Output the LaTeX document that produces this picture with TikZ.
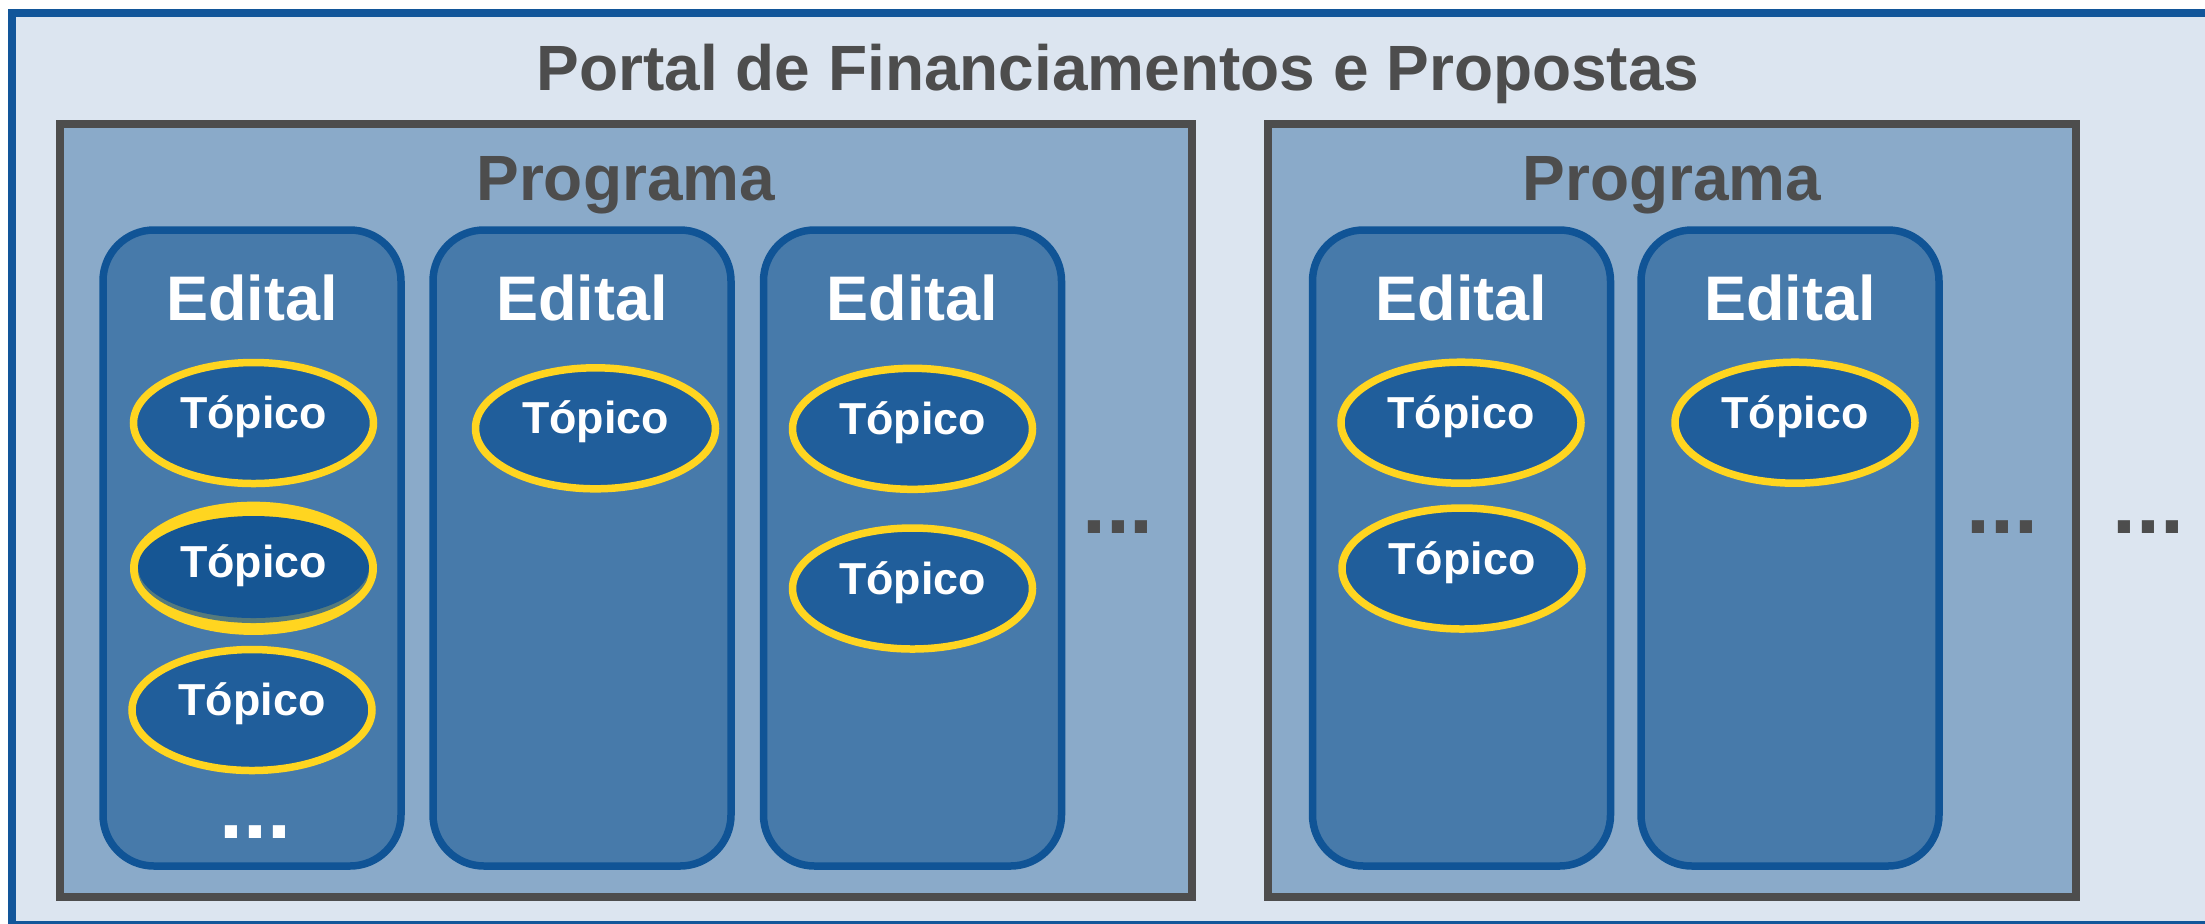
\documentclass[tikz,border=0pt]{standalone}
\usepackage{fontspec}
\setmainfont{Liberation Sans}
\usetikzlibrary{shapes.geometric}
\definecolor{bgc}{HTML}{DCE5F0}
\definecolor{frameblue}{HTML}{12569A}
\definecolor{progfill}{HTML}{8AAAC9}
\definecolor{darkgray}{HTML}{4D4D4D}
\definecolor{edfill}{HTML}{477AAA}
\definecolor{edline}{HTML}{105496}
\definecolor{topfill}{HTML}{205E9B}
\definecolor{topdark}{HTML}{165694}
\definecolor{yel}{HTML}{FFD520}
\definecolor{shad}{HTML}{557A7C}
\begin{document}
\begin{tikzpicture}[x=0.5pt,y=-0.5pt,
 portalbox/.style={rectangle,draw=frameblue,fill=bgc,line width=3.75pt,minimum width=1114.1pt,minimum height=456.1pt,inner sep=0},
 progbox/.style={rectangle,draw=darkgray,fill=progfill,line width=4pt,minimum height=386.25pt,inner sep=0},
 edbox/.style={rectangle,draw=edline,fill=edfill,line width=3.75pt,rounded corners=25.5pt,minimum width=149pt,minimum height=318pt,inner sep=0},
 topic/.style={ellipse,draw=yel,fill=topfill,line width=3.75pt,minimum width=120pt,minimum height=60.5pt,inner sep=0},
 bigtext/.style={text=darkgray,font=\bfseries\fontsize{32}{32}\selectfont,anchor=base,inner sep=0},
 edtext/.style={text=white,font=\bfseries\fontsize{31.5}{32}\selectfont,anchor=base,inner sep=0},
 toptext/.style={text=white,font=\bfseries\fontsize{22.4}{24}\selectfont,anchor=base,inner sep=0},
 dotsgray/.style={text=darkgray,font=\bfseries\fontsize{43}{43}\selectfont,anchor=base,inner sep=0},
 dotswhite/.style={dotsgray,text=white}]
\path[use as bounding box] (0,0) rectangle (2205,923);
\clip (0,0) rectangle (2205,923);
\fill[white] (0,0) rectangle (2205,923);
% outer frame
\node[portalbox] (portal) at (1125.9,468.9) {};
\node[bigtext] (ptitle) at (1118,90) {Portal de Financiamentos e Propostas};
% programs
\node[progbox,minimum width=566.25pt] (prog1) at (625.75,510.25) {};
\node[progbox,minimum width=404pt] (prog2) at (1672,510.25) {};
\node[bigtext] (prog1t) at (625.75,200.7) {Programa};
\node[bigtext] (prog2t) at (1672,200.7) {Programa};
% editais
\node[edbox] (ed1) at (252,548) {};
\node[edbox] (ed2) at (582,548) {};
\node[edbox] (ed3) at (912.5,548) {};
\node[edbox] (ed4) at (1461.5,548) {};
\node[edbox] (ed5) at (1790,548) {};
\node[edtext] (ed1t) at (252,320.7) {Edital};
\node[edtext] (ed2t) at (582,320.7) {Edital};
\node[edtext] (ed3t) at (912.5,320.7) {Edital};
\node[edtext] (ed4t) at (1461.5,320.7) {Edital};
\node[edtext] (ed5t) at (1790,320.7) {Edital};
% topics
\node[topic] (t11) at (253.5,423) {};
\node[toptext] (t11t) at (253.5,428.5) {Tópico};
% highlighted topic with inner shadow
\node[ellipse,fill=yel,minimum width=123.5pt,minimum height=66.65pt,inner sep=0] (t12) at (253.5,568.3) {};
\node[ellipse,fill=shad,minimum width=115.5pt,minimum height=53pt,inner sep=0] (t12s) at (253.5,570) {};
\node[ellipse,fill=topdark,minimum width=115.5pt,minimum height=51pt,inner sep=0] (t12f) at (253.5,567) {};
\node[toptext] (t12t) at (253.5,577.3) {Tópico};
\node[topic] (t13) at (252,710) {};
\node[toptext] (t13t) at (252,715.5) {Tópico};
\node[topic] (t21) at (595.5,428.3) {};
\node[toptext] (t21t) at (595.5,433.3) {Tópico};
\node[topic] (t31) at (912.5,428.8) {};
\node[toptext] (t31t) at (912.5,434.3) {Tópico};
\node[topic] (t32) at (912.5,588.5) {};
\node[toptext] (t32t) at (912.5,594) {Tópico};
\node[topic] (t41) at (1461,422.7) {};
\node[toptext] (t41t) at (1461,428.2) {Tópico};
\node[topic] (t42) at (1462,568.5) {};
\node[toptext] (t42t) at (1462,574) {Tópico};
\node[topic] (t51) at (1795,422.7) {};
\node[toptext] (t51t) at (1795,428.2) {Tópico};
% ellipsis marks
\node[dotswhite] (d1) at (255.5,838) {...};
\node[dotsgray] (d2) at (1118,533) {...};
\node[dotsgray] (d3) at (2002,533) {...};
\node[dotsgray] (d4) at (2148,533) {...};
\end{tikzpicture}
\end{document}
